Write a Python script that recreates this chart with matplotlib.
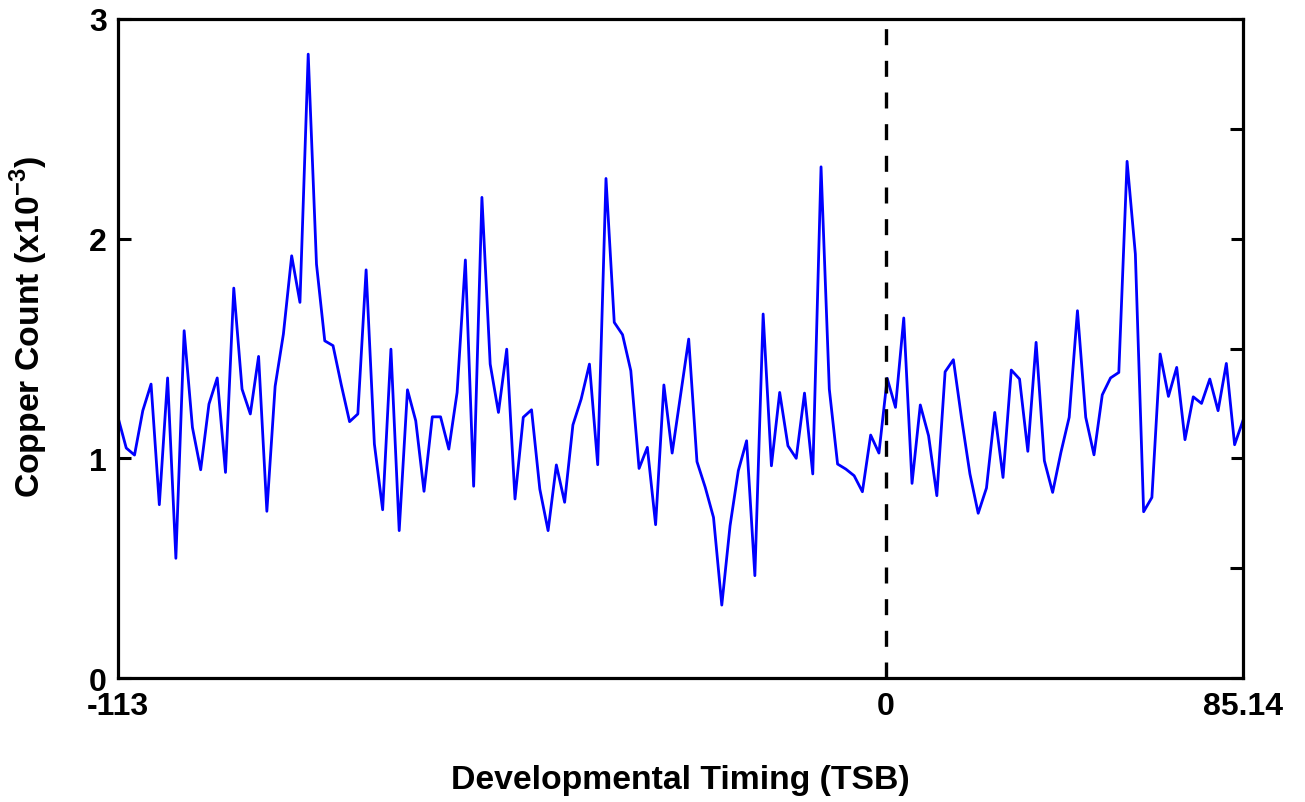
import numpy as np
import matplotlib
matplotlib.use("Agg")
import matplotlib.pyplot as plt
from matplotlib.ticker import MultipleLocator

plt.rcParams['font.family'] = ['Liberation Sans', 'DejaVu Sans']
plt.rcParams['font.weight'] = 'bold'
plt.rcParams['mathtext.fontset'] = 'custom'
plt.rcParams['mathtext.rm'] = 'Liberation Sans:bold'
plt.rcParams['mathtext.bf'] = 'Liberation Sans:bold'

# copper counts (x1e-3) per developmental time bin
copper = [
    1.187, 1.047, 1.015, 1.217, 1.338, 0.789, 1.366, 0.545, 1.581, 1.141,
    0.948, 1.247, 1.366, 0.936, 1.775, 1.315, 1.202, 1.464, 0.759, 1.328,
    1.566, 1.922, 1.710, 2.840, 1.884, 1.535, 1.513, 1.334, 1.167, 1.202,
    1.858, 1.065, 0.766, 1.497, 0.671, 1.312, 1.171, 0.850, 1.189, 1.189,
    1.042, 1.300, 1.903, 0.873, 2.188, 1.429, 1.209, 1.497, 0.815, 1.187,
    1.221, 0.860, 0.671, 0.970, 0.800, 1.152, 1.270, 1.429, 0.971, 2.274,
    1.619, 1.563, 1.399, 0.954, 1.050, 0.698, 1.334, 1.024, 1.285, 1.543,
    0.985, 0.868, 0.731, 0.332, 0.693, 0.944, 1.080, 0.466, 1.657, 0.966,
    1.300, 1.057, 1.000, 1.297, 0.929, 2.327, 1.315, 0.974, 0.951, 0.921,
    0.848, 1.106, 1.024, 1.364, 1.232, 1.639, 0.886, 1.243, 1.103, 0.830,
    1.394, 1.449, 1.179, 0.929, 0.750, 0.865, 1.209, 0.913, 1.402, 1.361,
    1.032, 1.528, 0.989, 0.845, 1.027, 1.187, 1.672, 1.187, 1.016, 1.289,
    1.366, 1.391, 2.352, 1.930, 0.757, 0.822, 1.475, 1.282, 1.414, 1.085,
    1.280, 1.250, 1.361, 1.217, 1.432, 1.062, 1.171,
]
birth_idx = 92.8          # bin where TSB = 0
tick_labels = ['-113', '0', '85.14']

x = np.arange(len(copper))

fig = plt.figure(figsize=(13.05, 8.03), dpi=100)
ax = fig.add_axes([0.0904, 0.1544, 0.862, 0.8207])

ax.plot(x, copper, color='#0000ff', lw=2.0)
ax.axvline(birth_idx, color='black', lw=2.4, ls=(0, (4.8, 4.7)))

ax.set_xlim(0, len(copper) - 1)
ax.set_ylim(0, 3)

ax.set_xticks([0, birth_idx, len(copper) - 1])
ax.set_xticklabels(tick_labels)
ax.set_yticks([0, 1, 2, 3])
ax.yaxis.set_minor_locator(MultipleLocator(0.5))

ax.tick_params(axis='x', length=0, labelsize=23, pad=9)
ax.tick_params(axis='y', which='major', direction='in', length=9, width=2.2,
               labelsize=23, pad=8, right=True)
ax.tick_params(axis='y', which='minor', direction='in', length=9.5, width=2.2,
               left=False, right=True)
for lab in ax.get_xticklabels() + ax.get_yticklabels():
    lab.set_fontweight('bold')

for sp in ax.spines.values():
    sp.set_linewidth(2.3)

ax.set_xlabel('Developmental Timing (TSB)', fontsize=24.3, fontweight='bold')
ax.xaxis.set_label_coords(0.5, -0.130)
ax.set_ylabel(r'Copper Count (x10$^{-3}$)', fontsize=24.3, fontweight='bold')
ax.yaxis.set_label_coords(-0.0605, 0.534)

fig.savefig('out.png', dpi=100)
